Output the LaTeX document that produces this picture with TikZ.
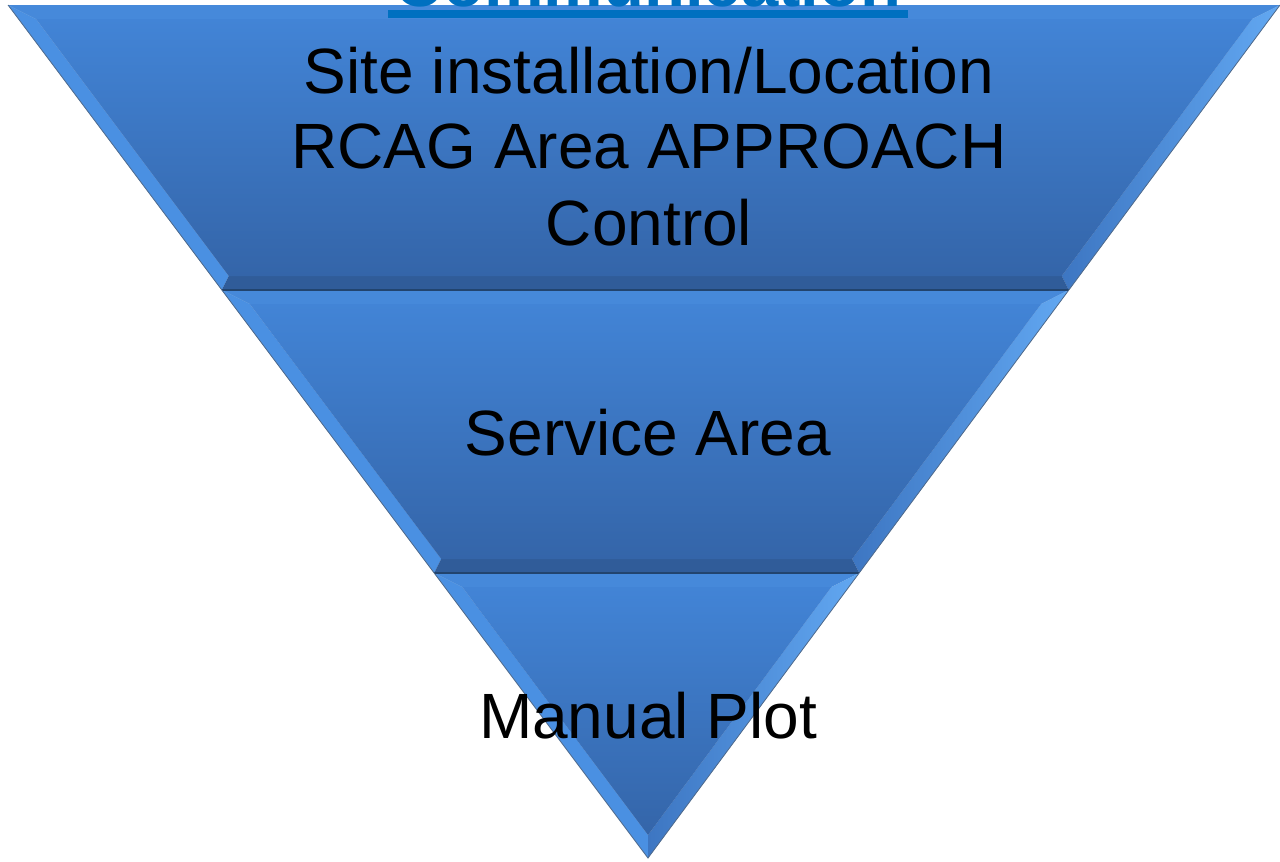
\documentclass[tikz,border=0pt]{standalone}
\usepackage{fontspec}
\setmainfont{Liberation Sans}
\definecolor{facetop}{HTML}{4284D6}
\definecolor{facebot}{HTML}{3465A9}
\definecolor{bevL}{HTML}{4A90E2}
\definecolor{bevR}{HTML}{3D76C2}
\definecolor{bevRhi}{HTML}{62A8F2}
\definecolor{bevB}{HTML}{305C99}
\definecolor{bevT}{HTML}{4689DA}
\definecolor{edge}{HTML}{22446E}
\definecolor{titleblue}{HTML}{0070C0}
\tikzset{
  face/.style={top color=facetop,bottom color=facebot,draw=none},
  bl/.style={fill=bevL,draw=none},
  br/.style={left color=bevR,right color=bevRhi,draw=none},
  bb/.style={fill=bevB,draw=none},
  bt/.style={fill=bevT,draw=none},
  edgeline/.style={draw=edge,line width=1.2pt},
  shadow/.style={fill=black,opacity=0.18,draw=none},
  lbl/.style={font=\fontsize{64}{76}\selectfont,text=black,anchor=base,inner sep=0pt},
  ttl/.style={font=\bfseries\fontsize{67}{80}\selectfont,text=titleblue,anchor=base,inner sep=0pt}
}
\begin{document}
\begin{tikzpicture}[x=1pt,y=-1pt]
\useasboundingbox (0,0) rectangle (1280,862);
% outer corners
\coordinate (A1) at (8,5);
\coordinate (A2) at (1280,5);
\coordinate (B1) at (221.8,290);
\coordinate (B2) at (1068.8,290);
\coordinate (C1) at (434.2,573);
\coordinate (C2) at (859.2,573);
\coordinate (D) at (648,858);
% inner corners
\coordinate (a1) at (36,19);
\coordinate (a2) at (1252.2,19);
\coordinate (b1) at (228.8,276);
\coordinate (b2) at (1061.8,276);
\coordinate (c1) at (249.8,304);
\coordinate (c2) at (1041.1,304);
\coordinate (d1) at (441.2,559);
\coordinate (d2) at (852.1,559);
\coordinate (e1) at (462.2,587);
\coordinate (e2) at (831.4,587);
\coordinate (f) at (648,835);
% shadow
\fill[shadow,shift={(3,3)}] (A1) -- (A2) -- (D) -- cycle;
\draw[gray!70,line width=1pt] (A1) -- (A2);
% band 1
\path[bt] (A1) -- (A2) -- (a2) -- (a1) -- cycle;
\path[bl] (A1) -- (a1) -- (b1) -- (B1) -- cycle;
\path[br] (a2) -- (A2) -- (B2) -- (b2) -- cycle;
\path[bb] (b1) -- (b2) -- (B2) -- (B1) -- cycle;
\path[face] (a1) -- (a2) -- (b2) -- (b1) -- cycle;
% band 2
\path[bt] (B1) -- (B2) -- (c2) -- (c1) -- cycle;
\path[bl] (B1) -- (c1) -- (d1) -- (C1) -- cycle;
\path[br] (c2) -- (B2) -- (C2) -- (d2) -- cycle;
\path[bb] (d1) -- (d2) -- (C2) -- (C1) -- cycle;
\path[face] (c1) -- (c2) -- (d2) -- (d1) -- cycle;
% band 3
\path[bt] (C1) -- (C2) -- (e2) -- (e1) -- cycle;
\path[bl] (C1) -- (e1) -- (f) -- (D) -- cycle;
\path[br] (e2) -- (C2) -- (D) -- (f) -- cycle;
\path[face] (e1) -- (e2) -- (f) -- cycle;
% edges
\draw[edgeline] (B1) -- (B2);
\draw[edgeline] (C1) -- (C2);
\draw[edge!80,line width=0.8pt] (A1) -- (D) -- (A2);
% title
\node[ttl] (title) at (648,6) {Communication};
\fill[titleblue] (388,10) rectangle (908,18);
% labels
\node[lbl] (l1) at (649,93) {Site installation/Location};
\node[lbl] (l2) at (649,168) {RCAG Area APPROACH};
\node[lbl] (l3) at (649,245) {Control};
\node[lbl] (l4) at (648,455) {Service Area};
\node[lbl] (l5) at (648,738) {Manual Plot};
\end{tikzpicture}
\end{document}
